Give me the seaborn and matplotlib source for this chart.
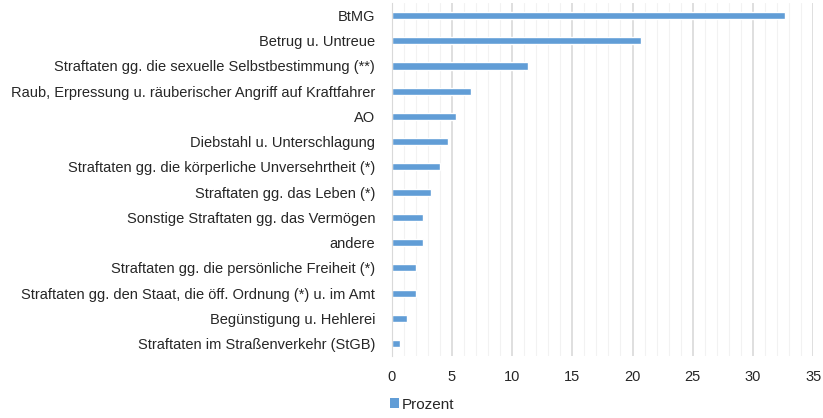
import pandas as pd
import matplotlib.pyplot as plt
import seaborn as sns
from matplotlib.ticker import MultipleLocator
from matplotlib.patches import Patch

categories = [
    "BtMG",
    "Betrug u. Untreue",
    "Straftaten gg. die sexuelle Selbstbestimmung (**)",
    "Raub, Erpressung u. räuberischer Angriff auf Kraftfahrer",
    "AO",
    "Diebstahl u. Unterschlagung",
    "Straftaten gg. die körperliche Unversehrtheit (*)",
    "Straftaten gg. das Leben (*)",
    "Sonstige Straftaten gg. das Vermögen",
    "andere",
    "Straftaten gg. die persönliche Freiheit (*)",
    "Straftaten gg. den Staat, die öff. Ordnung (*) u. im Amt",
    "Begünstigung u. Hehlerei",
    "Straftaten im Straßenverkehr (StGB)",
]
prozent = [32.7, 20.7, 11.3, 6.6, 5.3, 4.65, 4.0, 3.3, 2.6, 2.6, 2.0, 2.0, 1.3, 0.65]

df = pd.DataFrame({"Kategorie": categories, "Prozent": prozent})

sns.set_style("white")
plt.rcParams["font.family"] = ["Liberation Sans", "DejaVu Sans"]

fig = plt.figure(figsize=(8.23, 4.18), dpi=100)
ax = fig.add_axes([0.476, 0.148, 0.512, 0.845])

bar_color = "#619DD6"
sns.barplot(data=df, x="Prozent", y="Kategorie", orient="h", color=bar_color,
            width=0.28, saturation=1, ax=ax)

ax.set_xlim(0, 35)
ax.set_ylim(len(categories) - 0.5, -0.5)
ax.xaxis.set_major_locator(MultipleLocator(5))
ax.xaxis.set_minor_locator(MultipleLocator(1))
ax.grid(axis="x", which="major", color="#D9D9D9", linewidth=1.2)
ax.grid(axis="x", which="minor", color="#F2F2F2", linewidth=0.8)
ax.set_axisbelow(True)

for side in ["top", "right", "bottom"]:
    ax.spines[side].set_visible(False)
ax.spines["left"].set_color("#D9D9D9")

# category boundary ticks on the left
ax.set_yticks(range(len(categories)))
ax.set_yticklabels(categories)
ax.set_yticks([i + 0.5 for i in range(-1, len(categories))], minor=True)
ax.tick_params(axis="y", which="major", length=0, pad=12, labelsize=10.5, labelcolor="#262626")
ax.tick_params(axis="y", which="minor", length=4, color="#D9D9D9", width=1)
ax.tick_params(axis="x", which="both", length=0, pad=10, labelsize=10.5, labelcolor="#262626")
ax.set_xlabel("")
ax.set_ylabel("")

handle = Patch(facecolor=bar_color, edgecolor="none")
fig.legend([handle], ["Prozent"], loc="center left", bbox_to_anchor=(0.457, 0.032),
           frameon=False, fontsize=11, handlelength=0.6, handleheight=0.6,
           handletextpad=0.2, labelcolor="#262626")

fig.savefig("out.png", dpi=100)
